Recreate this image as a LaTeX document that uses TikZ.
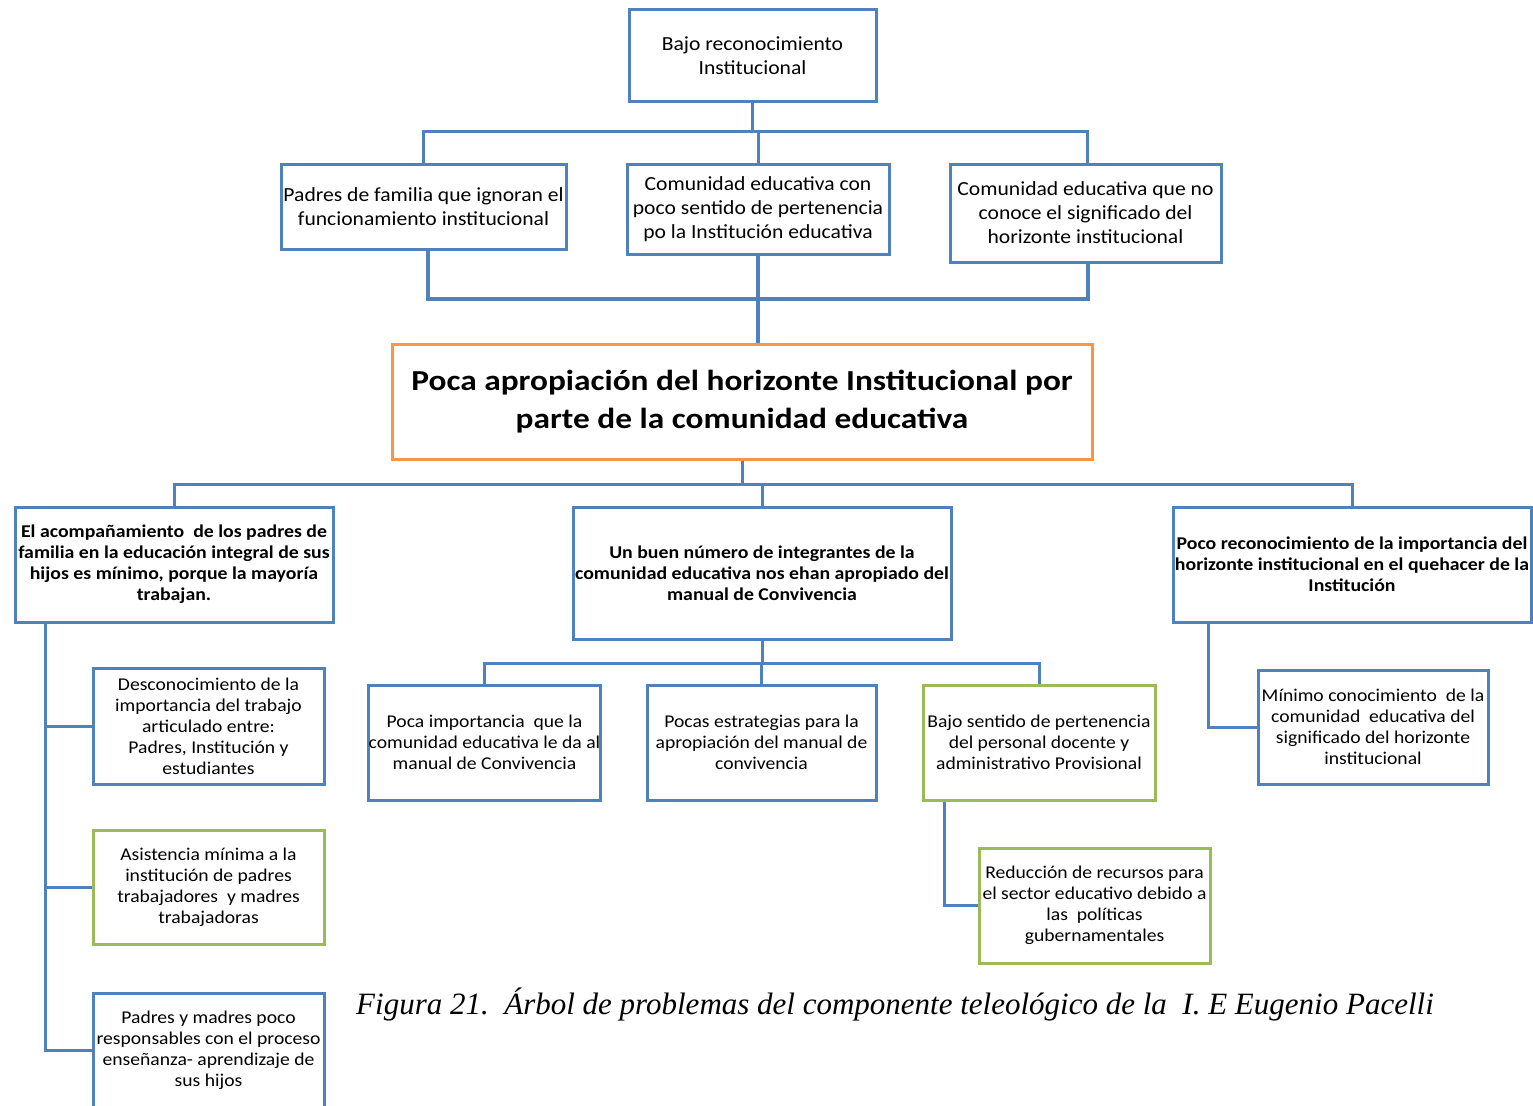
\documentclass[tikz,border=0pt]{standalone}
\usepackage{fontspec}
\setmainfont{Carlito}
\newfontfamily\famA{Carlito}[FakeStretch=1.08]
\newfontfamily\famB{Carlito}[FakeStretch=1.15]
\newfontfamily\famC{Carlito}[FakeStretch=1.10]
\newfontfamily\famD{Carlito}[FakeStretch=1.09]
\newfontfamily\capfont{Liberation Serif}
\definecolor{myblue}{HTML}{4F81BD}
\definecolor{mygreen}{HTML}{9BBB59}
\definecolor{myorange}{HTML}{F79646}
\begin{document}
\begin{tikzpicture}[x=1pt,y=-1pt,
  bx/.style={draw=myblue, line width=3pt, fill=white, align=center, inner sep=0pt, text=black},
  gbx/.style={bx, draw=mygreen},
  obx/.style={bx, draw=myorange},
  fA/.style={font=\famA\fontsize{20}{24}\selectfont},
  fB/.style={font=\famB\bfseries\fontsize{29}{38}\selectfont},
  fC/.style={font=\famC\bfseries\fontsize{18}{21}\selectfont},
  fD/.style={font=\famD\fontsize{18}{21}\selectfont},
  conn/.style={draw=myblue, line width=3pt},
  thk/.style={draw=myblue, line width=4pt}]
\useasboundingbox (0,0) rectangle (1533,1105);

\node[bx, fA, minimum width=247pt, minimum height=92pt] (top) at (752.5,56) {Bajo reconocimiento\\Institucional};
\node[bx, fA, minimum width=285pt, minimum height=85pt] (A) at (423.5,206.5) {Padres de familia que ignoran el\\funcionamiento institucional};
\node[bx, fA, minimum width=262pt, minimum height=90pt] (B) at (758,209) {Comunidad educativa con\\poco sentido de pertenencia\\po la Institución educativa};
\node[bx, fA, minimum width=271pt, minimum height=98pt] (C) at (1085.5,213) {Comunidad educativa que no\\conoce el significado del\\horizonte institucional};

\node[obx, fB, minimum width=700pt, minimum height=115pt] (cbox) at (742,401.5) {Poca apropiación del horizonte Institucional por\\parte de la comunidad educativa};

\node[bx, fC, minimum width=318pt, minimum height=115pt] (L) at (174,564.5) {El acompañamiento\ \ de los padres de\\familia en la educación integral de sus\\hijos es mínimo, porque la mayoría\\trabajan.};
\node[bx, fC, minimum width=378pt, minimum height=132pt] (M) at (762,573) {Un buen número de integrantes de la\\comunidad educativa nos ehan apropiado del\\manual de Convivencia};
\node[bx, fC, minimum width=358pt, minimum height=115pt] (R) at (1352,564.5) {Poco reconocimiento de la importancia del\\horizonte institucional en el quehacer de la\\Institución};

\node[bx, fD, minimum width=231pt, minimum height=116pt] (L1) at (208.5,726) {Desconocimiento de la\\importancia del trabajo\\articulado entre:\\Padres, Institución y\\estudiantes};
\node[gbx, fD, minimum width=231pt, minimum height=114pt] (L2) at (208.5,887) {Asistencia mínima a la\\institución de padres\\trabajadores\ \ y madres\\trabajadoras};
\node[bx, fD, minimum width=231pt, minimum height=114pt] (L3) at (208.5,1050) {Padres y madres poco\\responsables con el proceso\\enseñanza- aprendizaje de\\sus hijos};

\node[bx, fD, minimum width=229pt, minimum height=115pt] (M1) at (484.5,742.5) {Poca importancia\ \ que la\\comunidad educativa le da al\\manual de Convivencia};
\node[bx, fD, minimum width=229pt, minimum height=115pt] (M2) at (761.5,742.5) {Pocas estrategias para la\\apropiación del manual de\\convivencia};
\node[gbx, fD, minimum width=232pt, minimum height=115pt] (M3) at (1039,742.5) {Bajo sentido de pertenencia\\del personal docente y\\administrativo Provisional};
\node[gbx, fD, minimum width=231pt, minimum height=115pt] (M4) at (1094.5,905.5) {Reducción de recursos para\\el sector educativo debido a\\las\ \ políticas\\gubernamentales};

\node[bx, fD, minimum width=230pt, minimum height=114pt] (R1) at (1373,727) {Mínimo conocimiento\ \ de la\\comunidad\ \ educativa del\\significado del horizonte\\institucional};

\node[anchor=west, inner sep=0pt, font=\capfont\itshape\fontsize{31}{36}\selectfont] (cap) at (356,1004) {Figura 21.\ \ Árbol de problemas del componente teleológico de la\ \ I. E Eugenio Pacelli};

% connectors
\coordinate (j1) at (752,132);
\draw[conn] (top.south) -- (top.south |- j1);
\draw[conn] (A.north) -- (A.north |- j1) -- ([xshift=2pt]C.north |- j1) -- ([xshift=2pt]C.north);
\draw[conn] (B.north) -- (B.north |- j1);

\coordinate (j2) at (760,299);
\draw[thk] ([xshift=4pt]A.south) -- ([xshift=4pt]A.south |- j2) -- ([xshift=2pt]C.south |- j2) -- ([xshift=2pt]C.south);
\draw[thk] (B.south) -- (B.south |- cbox.north);

\coordinate (j3) at (744,484);
\draw[conn] (cbox.south) -- (cbox.south |- j3);
\draw[conn] (L.north) -- (L.north |- j3) -- (R.north |- j3) -- (R.north);
\draw[conn] (M.north) -- (M.north |- j3);

\coordinate (j4) at (762,663);
\draw[conn] (M.south) -- (M.south |- j4);
\draw[conn] (M1.north) -- (M1.north |- j4) -- (M3.north |- j4) -- (M3.north);
\draw[conn] (M2.north) -- (M2.north |- j4);

\coordinate (lt) at ([xshift=32pt]L.south west);
\draw[conn] (lt) |- (L3.west);
\draw[conn] (L1.west) -- (L1.west -| lt);
\draw[conn] (L2.west) -- (L2.west -| lt);

\coordinate (mt) at ([xshift=23pt]M3.south west);
\draw[conn] (mt) |- (M4.west);

\coordinate (rt) at ([xshift=37pt]R.south west);
\draw[conn] (rt) |- (R1.west);
\end{tikzpicture}
\end{document}
